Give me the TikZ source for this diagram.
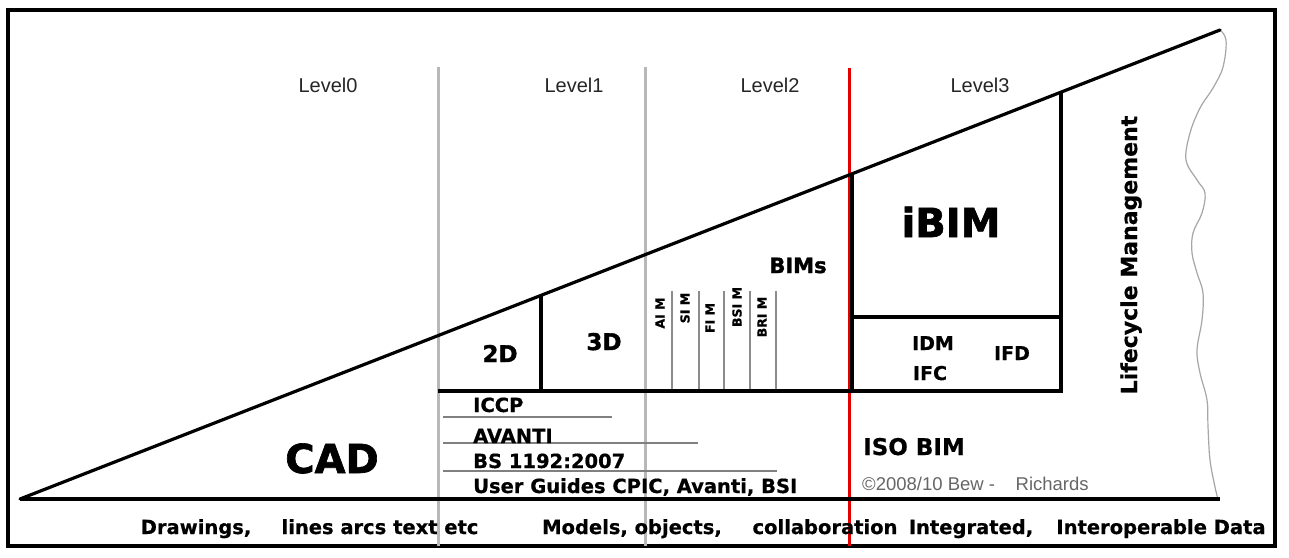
\documentclass[tikz,border=0pt]{standalone}
\usepackage{fontspec}
\setmainfont{DejaVu Sans}
\newfontfamily\arialf{Liberation Sans}
\newfontfamily\heavyf{DejaVu Sans}[BoldFeatures={FakeBold=1.6}]
\newfontfamily\semif{DejaVu Sans}[BoldFeatures={FakeBold=0.6}]
\begin{document}
\begin{tikzpicture}[x=1pt,y=-1pt,
  blk/.style={line width=3.2pt,black},
  gryv/.style={line width=3pt,color=black!28},
  gryt/.style={line width=1.8pt,color=black!45},
  gryu/.style={line width=1.6pt,color=black!50},
  redv/.style={line width=3pt,color=red!90!black},
  wave/.style={line width=1.2pt,color=black!35},
  lvl/.style={inner sep=0,anchor=base,text=black!85,font=\arialf\fontsize{20}{24}\selectfont},
  big/.style={inner sep=0,anchor=base,font=\heavyf\bfseries\fontsize{40}{44}\selectfont},
  mid/.style={inner sep=0,anchor=base,font=\heavyf\bfseries\fontsize{23}{26}\selectfont},
  txt/.style={inner sep=0,anchor=base west,font=\semif\bfseries\fontsize{19.5}{22}\selectfont},
  bot/.style={inner sep=0,anchor=base,font=\semif\bfseries\fontsize{19.5}{22}\selectfont},
  sml/.style={inner sep=0,rotate=90,font=\semif\bfseries\fontsize{12.5}{14}\selectfont},
]
\useasboundingbox (0,0) rectangle (1289,557);
\fill[white] (0,0) rectangle (1289,557);
% outer frame
\draw[line width=3.5pt] (8,10) rectangle (1275,546);

% gray level dividers
\coordinate (g1t) at (438,67);  \coordinate (g1b) at (438,546);
\coordinate (g2t) at (645,67);  \coordinate (g2b) at (645,546);
\draw[gryv] (g1t) -- (g1b);
\draw[gryv] (g2t) -- (g2b);

% small gray lines (Level 2)
\foreach \x/\n in {672/a,699/b,724/c,750/d,776/e}{
  \coordinate (s\n t) at (\x,291);
  \coordinate (s\n b) at (\x,391);
  \draw[gryt] (s\n t) -- (s\n b);
}

% underlines
\coordinate (u0) at (443,417); \coordinate (u1) at (612,417);
\coordinate (v0) at (443,443); \coordinate (v1) at (698,443);
\coordinate (w0) at (443,471); \coordinate (w1) at (777,471);
\draw[gryu] (u0) -- (u1);
\draw[gryu] (v0) -- (v1);
\draw[gryu] (w0) -- (w1);

% wavy edge
\draw[wave] plot[smooth,tension=0.6] coordinates {
 (1219,29) (1226,40) (1223,67) (1213,88) (1200,108) (1190,133) (1186,160)
 (1197,180) (1205,193) (1202,213) (1193,233) (1192,253) (1197,273)
 (1203,293) (1202,320) (1197,350) (1200,373) (1207,400) (1208,427)
 (1210,460) (1215,487) (1218,499)};

% red level 2/3 divider
\coordinate (rt) at (849,68); \coordinate (rb) at (849,546);
\draw[redv] (rt) -- (rb);

% main triangle
\coordinate (apex) at (20,499);
\coordinate (top) at (1220,30);
\coordinate (corner) at (1220,499);
\draw[blk,line cap=round] (apex) -- (top);
\draw[blk] (apex) -- (corner);

% inner structure
\coordinate (h0) at (438,391);
\coordinate (h1) at (1061,391);
\draw[blk] (h0) -- (h1);
\coordinate (d2t) at (541,295.4); \coordinate (d2b) at (541,391);
\draw[blk] (d2t) -- (d2b);
\coordinate (bxl) at (852,173.8); \coordinate (bxlb) at (852,391);
\draw[blk] (bxl) -- (bxlb);
\coordinate (bxr) at (1061,92.1); \coordinate (bxrb) at (1061,392.6);
\draw[blk] (bxr) -- (bxrb);
\coordinate (m0) at (852,317); \coordinate (m1) at (1061,317);
\draw[blk] (m0) -- (m1);

% level labels
\node[lvl] (l0) at (328,92) {Level0};
\node[lvl] (l1) at (574,92) {Level1};
\node[lvl] (l2) at (770,92) {Level2};
\node[lvl] (l3) at (980,92) {Level3};

% big labels
\node[big] (cad) at (332,473) {CAD};
\node[big] (ibim) at (951,237) {iBIM};
\node[mid] (d2) at (500,362) {2D};
\node[mid] (d3) at (604,350) {3D};
\node[inner sep=0,anchor=base,font=\heavyf\bfseries\fontsize{21}{24}\selectfont] (bims) at (798,273) {BIMs};

% small rotated
\node[sml] (aim) at (660,313) {AI M};
\node[sml] (sim) at (685,308) {SI M};
\node[sml] (fim) at (710,318) {FI M};
\node[sml] (bsim) at (737,307) {BSI M};
\node[sml] (brim) at (762,317) {BRI M};

% box texts
\node[inner sep=0,anchor=base,font=\semif\bfseries\fontsize{19}{22}\selectfont] (idm) at (933,350) {IDM};
\node[inner sep=0,anchor=base,font=\semif\bfseries\fontsize{19}{22}\selectfont] (ifc) at (930,380) {IFC};
\node[inner sep=0,anchor=base,font=\semif\bfseries\fontsize{19}{22}\selectfont] (ifd) at (1012,360) {IFD};

% left column texts
\node[txt] (iccp) at (473,412) {ICCP};
\node[txt] (avanti) at (473,443) {AVANTI};
\node[txt] (bs) at (473,468) {BS 1192:2007};
\node[txt] (ug) at (473,493) {User Guides CPIC, Avanti, BSI};

% ISO BIM and copyright
\node[inner sep=0,anchor=base west,font=\semif\bfseries\fontsize{23}{26}\selectfont] (iso) at (863,455) {ISO BIM};
\node[inner sep=0,anchor=base west,text=black!60,font=\arialf\fontsize{18.5}{20}\selectfont] (copy) at (862,490) {©2008/10 Bew -\ \ \ \ Richards};

% lifecycle
\node[inner sep=0,rotate=90,font=\semif\bfseries\fontsize{22}{24}\selectfont] (life) at (1131,255) {Lifecycle Management};

% bottom line
\node[bot] (b1) at (196,534) {Drawings,};
\node[bot] (b2) at (380,534) {lines arcs text etc};
\node[bot] (b3) at (632,534) {Models, objects,};
\node[bot] (b4) at (825,534) {collaboration};
\node[bot] (b5) at (971,534) {Integrated,};
\node[bot] (b6) at (1161,534) {Interoperable Data};
\end{tikzpicture}
\end{document}
